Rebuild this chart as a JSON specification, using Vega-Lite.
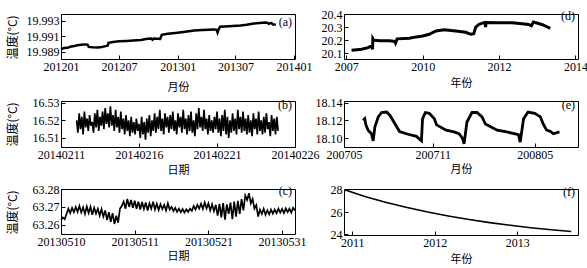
{
"$schema": "https://vega.github.io/schema/vega-lite/v6.json",
"padding": {"left": 5, "top": 7, "right": 0, "bottom": 0},
"background": "white",
"bounds": "flush",
"columns": 2,
"spacing": {"column": 49, "row": 42},
"datasets": {
"a": [
{"t":"2012-01-01T00:00","v":19.98935},{"t":"2012-01-10T00:00","v":19.98948},{"t":"2012-01-22T00:00","v":19.9895},{"t":"2012-02-02T00:00","v":19.98968},{"t":"2012-02-12T00:00","v":19.98975},{"t":"2012-02-22T00:00","v":19.98985},{"t":"2012-03-04T00:00","v":19.9899},{"t":"2012-03-14T00:00","v":19.98995},{"t":"2012-03-24T00:00","v":19.98992},{"t":"2012-03-28T00:00","v":19.98962},{"t":"2012-04-10T00:00","v":19.98958},{"t":"2012-04-25T00:00","v":19.98956},{"t":"2012-05-08T00:00","v":19.9896},{"t":"2012-05-20T00:00","v":19.98972},{"t":"2012-05-27T00:00","v":19.9898},{"t":"2012-05-29T00:00","v":19.99016},{"t":"2012-06-12T00:00","v":19.99025},{"t":"2012-07-01T00:00","v":19.99035},{"t":"2012-07-25T00:00","v":19.9904},{"t":"2012-08-15T00:00","v":19.99046},{"t":"2012-09-08T00:00","v":19.99052},{"t":"2012-09-28T00:00","v":19.99068},{"t":"2012-10-10T00:00","v":19.99072},{"t":"2012-10-14T00:00","v":19.99055},{"t":"2012-10-18T00:00","v":19.9907},{"t":"2012-11-07T00:00","v":19.99065},{"t":"2012-11-12T00:00","v":19.9912},{"t":"2012-12-01T00:00","v":19.99132},{"t":"2013-01-01T00:00","v":19.99147},{"t":"2013-01-25T00:00","v":19.9916},{"t":"2013-02-22T00:00","v":19.99175},{"t":"2013-03-20T00:00","v":19.99183},{"t":"2013-04-25T00:00","v":19.9919},{"t":"2013-05-03T00:00","v":19.99185},{"t":"2013-05-06T00:00","v":19.9915},{"t":"2013-05-09T00:00","v":19.99188},{"t":"2013-05-14T00:00","v":19.99225},{"t":"2013-06-10T00:00","v":19.99232},{"t":"2013-07-17T00:00","v":19.99242},{"t":"2013-08-05T00:00","v":19.9925},{"t":"2013-08-28T00:00","v":19.99265},{"t":"2013-09-15T00:00","v":19.99272},{"t":"2013-10-04T00:00","v":19.99278},{"t":"2013-10-10T00:00","v":19.99274},{"t":"2013-10-14T00:00","v":19.99262},{"t":"2013-10-18T00:00","v":19.9927},{"t":"2013-10-22T00:00","v":19.99272},{"t":"2013-10-28T00:00","v":19.9925},{"t":"2013-11-05T00:00","v":19.99255}
],
"b": [
{"t":"2014-02-12T00:00","v":16.52},{"t":"2014-02-12T02:00","v":16.513},{"t":"2014-02-12T04:00","v":16.524},{"t":"2014-02-12T06:00","v":16.515},{"t":"2014-02-12T08:00","v":16.522},{"t":"2014-02-12T10:00","v":16.512},{"t":"2014-02-12T12:00","v":16.525},{"t":"2014-02-12T14:00","v":16.516},{"t":"2014-02-12T16:00","v":16.521},{"t":"2014-02-12T18:00","v":16.514},{"t":"2014-02-12T20:00","v":16.523},{"t":"2014-02-12T22:00","v":16.517},
{"t":"2014-02-13T00:00","v":16.519},{"t":"2014-02-13T02:00","v":16.513},{"t":"2014-02-13T04:00","v":16.524},{"t":"2014-02-13T06:00","v":16.516},{"t":"2014-02-13T08:00","v":16.526},{"t":"2014-02-13T10:00","v":16.514},{"t":"2014-02-13T12:00","v":16.522},{"t":"2014-02-13T14:00","v":16.517},{"t":"2014-02-13T16:00","v":16.525},{"t":"2014-02-13T18:00","v":16.515},{"t":"2014-02-13T20:00","v":16.527},{"t":"2014-02-13T22:00","v":16.518},
{"t":"2014-02-14T00:00","v":16.524},{"t":"2014-02-14T02:00","v":16.516},{"t":"2014-02-14T04:00","v":16.528},{"t":"2014-02-14T06:00","v":16.517},{"t":"2014-02-14T08:00","v":16.523},{"t":"2014-02-14T10:00","v":16.514},{"t":"2014-02-14T12:00","v":16.526},{"t":"2014-02-14T14:00","v":16.516},{"t":"2014-02-14T16:00","v":16.522},{"t":"2014-02-14T18:00","v":16.513},{"t":"2014-02-14T20:00","v":16.525},{"t":"2014-02-14T22:00","v":16.515},
{"t":"2014-02-15T00:00","v":16.521},{"t":"2014-02-15T02:00","v":16.512},{"t":"2014-02-15T04:00","v":16.523},{"t":"2014-02-15T06:00","v":16.514},{"t":"2014-02-15T08:00","v":16.52},{"t":"2014-02-15T10:00","v":16.511},{"t":"2014-02-15T12:00","v":16.522},{"t":"2014-02-15T14:00","v":16.513},{"t":"2014-02-15T16:00","v":16.519},{"t":"2014-02-15T18:00","v":16.512},{"t":"2014-02-15T20:00","v":16.521},{"t":"2014-02-15T22:00","v":16.514},
{"t":"2014-02-16T00:00","v":16.518},{"t":"2014-02-16T02:00","v":16.51},{"t":"2014-02-16T04:00","v":16.522},{"t":"2014-02-16T06:00","v":16.512},{"t":"2014-02-16T08:00","v":16.519},{"t":"2014-02-16T10:00","v":16.509},{"t":"2014-02-16T12:00","v":16.521},{"t":"2014-02-16T14:00","v":16.513},{"t":"2014-02-16T16:00","v":16.523},{"t":"2014-02-16T18:00","v":16.511},{"t":"2014-02-16T20:00","v":16.52},{"t":"2014-02-16T22:00","v":16.514},
{"t":"2014-02-17T00:00","v":16.524},{"t":"2014-02-17T02:00","v":16.513},{"t":"2014-02-17T04:00","v":16.522},{"t":"2014-02-17T06:00","v":16.515},{"t":"2014-02-17T08:00","v":16.526},{"t":"2014-02-17T10:00","v":16.514},{"t":"2014-02-17T12:00","v":16.521},{"t":"2014-02-17T14:00","v":16.512},{"t":"2014-02-17T16:00","v":16.524},{"t":"2014-02-17T18:00","v":16.516},{"t":"2014-02-17T20:00","v":16.522},{"t":"2014-02-17T22:00","v":16.513},
{"t":"2014-02-18T00:00","v":16.523},{"t":"2014-02-18T02:00","v":16.515},{"t":"2014-02-18T04:00","v":16.525},{"t":"2014-02-18T06:00","v":16.514},{"t":"2014-02-18T08:00","v":16.52},{"t":"2014-02-18T10:00","v":16.512},{"t":"2014-02-18T12:00","v":16.524},{"t":"2014-02-18T14:00","v":16.516},{"t":"2014-02-18T16:00","v":16.522},{"t":"2014-02-18T18:00","v":16.513},{"t":"2014-02-18T20:00","v":16.526},{"t":"2014-02-18T22:00","v":16.515},
{"t":"2014-02-19T00:00","v":16.521},{"t":"2014-02-19T02:00","v":16.512},{"t":"2014-02-19T04:00","v":16.523},{"t":"2014-02-19T06:00","v":16.514},{"t":"2014-02-19T08:00","v":16.525},{"t":"2014-02-19T10:00","v":16.513},{"t":"2014-02-19T12:00","v":16.52},{"t":"2014-02-19T14:00","v":16.511},{"t":"2014-02-19T16:00","v":16.524},{"t":"2014-02-19T18:00","v":16.515},{"t":"2014-02-19T20:00","v":16.527},{"t":"2014-02-19T22:00","v":16.516},
{"t":"2014-02-20T00:00","v":16.522},{"t":"2014-02-20T02:00","v":16.514},{"t":"2014-02-20T04:00","v":16.526},{"t":"2014-02-20T06:00","v":16.515},{"t":"2014-02-20T08:00","v":16.521},{"t":"2014-02-20T10:00","v":16.512},{"t":"2014-02-20T12:00","v":16.523},{"t":"2014-02-20T14:00","v":16.514},{"t":"2014-02-20T16:00","v":16.52},{"t":"2014-02-20T18:00","v":16.513},{"t":"2014-02-20T20:00","v":16.522},{"t":"2014-02-20T22:00","v":16.515},
{"t":"2014-02-21T00:00","v":16.525},{"t":"2014-02-21T02:00","v":16.513},{"t":"2014-02-21T04:00","v":16.521},{"t":"2014-02-21T06:00","v":16.511},{"t":"2014-02-21T08:00","v":16.523},{"t":"2014-02-21T10:00","v":16.514},{"t":"2014-02-21T12:00","v":16.526},{"t":"2014-02-21T14:00","v":16.512},{"t":"2014-02-21T16:00","v":16.522},{"t":"2014-02-21T18:00","v":16.51},{"t":"2014-02-21T20:00","v":16.52},{"t":"2014-02-21T22:00","v":16.513},
{"t":"2014-02-22T00:00","v":16.524},{"t":"2014-02-22T02:00","v":16.514},{"t":"2014-02-22T04:00","v":16.521},{"t":"2014-02-22T06:00","v":16.512},{"t":"2014-02-22T08:00","v":16.526},{"t":"2014-02-22T10:00","v":16.515},{"t":"2014-02-22T12:00","v":16.522},{"t":"2014-02-22T14:00","v":16.513},{"t":"2014-02-22T16:00","v":16.525},{"t":"2014-02-22T18:00","v":16.514},{"t":"2014-02-22T20:00","v":16.521},{"t":"2014-02-22T22:00","v":16.512},
{"t":"2014-02-23T00:00","v":16.523},{"t":"2014-02-23T02:00","v":16.513},{"t":"2014-02-23T04:00","v":16.52},{"t":"2014-02-23T06:00","v":16.511},{"t":"2014-02-23T08:00","v":16.524},{"t":"2014-02-23T10:00","v":16.515},{"t":"2014-02-23T12:00","v":16.521},{"t":"2014-02-23T14:00","v":16.512},{"t":"2014-02-23T16:00","v":16.525},{"t":"2014-02-23T18:00","v":16.514},{"t":"2014-02-23T20:00","v":16.52},{"t":"2014-02-23T22:00","v":16.512},
{"t":"2014-02-24T00:00","v":16.522},{"t":"2014-02-24T02:00","v":16.513},{"t":"2014-02-24T04:00","v":16.524},{"t":"2014-02-24T06:00","v":16.515},{"t":"2014-02-24T08:00","v":16.519},{"t":"2014-02-24T10:00","v":16.511},{"t":"2014-02-24T12:00","v":16.523},{"t":"2014-02-24T14:00","v":16.514},{"t":"2014-02-24T16:00","v":16.521},{"t":"2014-02-24T18:00","v":16.512},{"t":"2014-02-24T20:00","v":16.522},{"t":"2014-02-24T22:00","v":16.514}
],
"c": [
{"t":"2013-05-01T00:00","v":63.2625},{"t":"2013-05-01T06:00","v":63.264},{"t":"2013-05-01T12:00","v":63.263},{"t":"2013-05-01T18:00","v":63.266},
{"t":"2013-05-02T00:00","v":63.269},{"t":"2013-05-02T06:00","v":63.2665},{"t":"2013-05-02T12:00","v":63.2695},{"t":"2013-05-02T18:00","v":63.267},
{"t":"2013-05-03T00:00","v":63.27},{"t":"2013-05-03T06:00","v":63.2672},{"t":"2013-05-03T12:00","v":63.2705},{"t":"2013-05-03T18:00","v":63.2668},
{"t":"2013-05-04T00:00","v":63.2698},{"t":"2013-05-04T06:00","v":63.266},{"t":"2013-05-04T12:00","v":63.2702},{"t":"2013-05-04T18:00","v":63.2665},
{"t":"2013-05-05T00:00","v":63.27},{"t":"2013-05-05T06:00","v":63.2655},{"t":"2013-05-05T12:00","v":63.2695},{"t":"2013-05-05T18:00","v":63.2662},
{"t":"2013-05-06T00:00","v":63.269},{"t":"2013-05-06T06:00","v":63.265},{"t":"2013-05-06T12:00","v":63.2688},{"t":"2013-05-06T18:00","v":63.2645},
{"t":"2013-05-07T00:00","v":63.268},{"t":"2013-05-07T06:00","v":63.2625},{"t":"2013-05-07T12:00","v":63.267},{"t":"2013-05-07T18:00","v":63.2615},
{"t":"2013-05-08T00:00","v":63.2665},{"t":"2013-05-08T06:00","v":63.2603},{"t":"2013-05-08T12:00","v":63.265},{"t":"2013-05-08T18:00","v":63.261},
{"t":"2013-05-09T00:00","v":63.269},{"t":"2013-05-09T06:00","v":63.2705},{"t":"2013-05-09T12:00","v":63.273},{"t":"2013-05-09T18:00","v":63.269},
{"t":"2013-05-10T00:00","v":63.2745},{"t":"2013-05-10T06:00","v":63.27},{"t":"2013-05-10T12:00","v":63.274},{"t":"2013-05-10T18:00","v":63.2695},
{"t":"2013-05-11T00:00","v":63.2735},{"t":"2013-05-11T06:00","v":63.269},{"t":"2013-05-11T12:00","v":63.273},{"t":"2013-05-11T18:00","v":63.2685},
{"t":"2013-05-12T00:00","v":63.2728},{"t":"2013-05-12T06:00","v":63.2688},{"t":"2013-05-12T12:00","v":63.2725},{"t":"2013-05-12T18:00","v":63.268},
{"t":"2013-05-13T00:00","v":63.272},{"t":"2013-05-13T06:00","v":63.269},{"t":"2013-05-13T12:00","v":63.273},{"t":"2013-05-13T18:00","v":63.2685},
{"t":"2013-05-14T00:00","v":63.2718},{"t":"2013-05-14T06:00","v":63.2682},{"t":"2013-05-14T12:00","v":63.2715},{"t":"2013-05-14T18:00","v":63.2688},
{"t":"2013-05-15T00:00","v":63.2712},{"t":"2013-05-15T06:00","v":63.268},{"t":"2013-05-15T12:00","v":63.272},{"t":"2013-05-15T18:00","v":63.2685},
{"t":"2013-05-16T00:00","v":63.27},{"t":"2013-05-16T06:00","v":63.2676},{"t":"2013-05-16T12:00","v":63.2695},{"t":"2013-05-16T18:00","v":63.2672},
{"t":"2013-05-17T00:00","v":63.269},{"t":"2013-05-17T06:00","v":63.267},{"t":"2013-05-17T12:00","v":63.2688},{"t":"2013-05-17T18:00","v":63.2668},
{"t":"2013-05-18T00:00","v":63.2686},{"t":"2013-05-18T06:00","v":63.2672},{"t":"2013-05-18T12:00","v":63.269},{"t":"2013-05-18T18:00","v":63.2678},
{"t":"2013-05-19T00:00","v":63.2705},{"t":"2013-05-19T06:00","v":63.2685},{"t":"2013-05-19T12:00","v":63.2712},{"t":"2013-05-19T18:00","v":63.269},
{"t":"2013-05-20T00:00","v":63.2718},{"t":"2013-05-20T06:00","v":63.2688},{"t":"2013-05-20T12:00","v":63.2725},{"t":"2013-05-20T18:00","v":63.2692},
{"t":"2013-05-21T00:00","v":63.272},{"t":"2013-05-21T06:00","v":63.268},{"t":"2013-05-21T12:00","v":63.2715},{"t":"2013-05-21T18:00","v":63.2676},
{"t":"2013-05-22T00:00","v":63.2712},{"t":"2013-05-22T06:00","v":63.265},{"t":"2013-05-22T12:00","v":63.2718},{"t":"2013-05-22T18:00","v":63.264},
{"t":"2013-05-23T00:00","v":63.2722},{"t":"2013-05-23T06:00","v":63.2628},{"t":"2013-05-23T12:00","v":63.2715},{"t":"2013-05-23T18:00","v":63.266},
{"t":"2013-05-24T00:00","v":63.2725},{"t":"2013-05-24T06:00","v":63.263},{"t":"2013-05-24T12:00","v":63.273},{"t":"2013-05-24T18:00","v":63.2645},
{"t":"2013-05-25T00:00","v":63.2735},{"t":"2013-05-25T06:00","v":63.266},{"t":"2013-05-25T12:00","v":63.2745},{"t":"2013-05-25T18:00","v":63.268},
{"t":"2013-05-26T00:00","v":63.2765},{"t":"2013-05-26T06:00","v":63.274},{"t":"2013-05-26T12:00","v":63.2778},{"t":"2013-05-26T18:00","v":63.272},
{"t":"2013-05-27T00:00","v":63.2745},{"t":"2013-05-27T06:00","v":63.269},{"t":"2013-05-27T12:00","v":63.271},{"t":"2013-05-27T18:00","v":63.2645},
{"t":"2013-05-28T00:00","v":63.2685},{"t":"2013-05-28T06:00","v":63.266},{"t":"2013-05-28T12:00","v":63.269},{"t":"2013-05-28T18:00","v":63.2655},
{"t":"2013-05-29T00:00","v":63.268},{"t":"2013-05-29T06:00","v":63.2658},{"t":"2013-05-29T12:00","v":63.2685},{"t":"2013-05-29T18:00","v":63.2662},
{"t":"2013-05-30T00:00","v":63.2685},{"t":"2013-05-30T06:00","v":63.2664},{"t":"2013-05-30T12:00","v":63.269},{"t":"2013-05-30T18:00","v":63.2668},
{"t":"2013-05-31T00:00","v":63.2688},{"t":"2013-05-31T06:00","v":63.2665},{"t":"2013-05-31T12:00","v":63.2692},{"t":"2013-05-31T18:00","v":63.267},
{"t":"2013-06-01T00:00","v":63.269},{"t":"2013-06-01T06:00","v":63.2668},{"t":"2013-06-01T12:00","v":63.2695},{"t":"2013-06-01T18:00","v":63.268}
],
"d": [
{"t":"2008-02-20T00:00","v":20.123},{"t":"2008-04-10T00:00","v":20.127},{"t":"2008-05-26T00:00","v":20.131},{"t":"2008-07-27T00:00","v":20.143},{"t":"2008-08-29T00:00","v":20.156},{"t":"2008-09-08T00:00","v":20.13},{"t":"2008-09-11T00:00","v":20.212},{"t":"2008-09-20T00:00","v":20.2},{"t":"2008-11-17T00:00","v":20.195},{"t":"2009-02-17T00:00","v":20.195},{"t":"2009-04-10T00:00","v":20.19},{"t":"2009-04-16T00:00","v":20.178},{"t":"2009-04-22T00:00","v":20.19},{"t":"2009-05-01T00:00","v":20.21},{"t":"2009-08-26T00:00","v":20.215},{"t":"2009-11-01T00:00","v":20.225},{"t":"2010-01-01T00:00","v":20.232},{"t":"2010-03-04T00:00","v":20.245},{"t":"2010-05-08T00:00","v":20.27},{"t":"2010-07-24T00:00","v":20.28},{"t":"2010-11-14T00:00","v":20.27},{"t":"2011-02-17T00:00","v":20.26},{"t":"2011-04-05T00:00","v":20.245},{"t":"2011-05-04T00:00","v":20.25},{"t":"2011-05-23T00:00","v":20.3},{"t":"2011-06-21T00:00","v":20.32},{"t":"2011-08-01T00:00","v":20.332},{"t":"2011-08-20T00:00","v":20.335},{"t":"2011-08-25T00:00","v":20.3},{"t":"2011-08-30T00:00","v":20.335},{"t":"2012-01-01T00:00","v":20.333},{"t":"2012-05-05T00:00","v":20.333},{"t":"2012-08-08T00:00","v":20.325},{"t":"2012-10-09T00:00","v":20.32},{"t":"2012-11-05T00:00","v":20.31},{"t":"2012-11-25T00:00","v":20.338},{"t":"2013-02-14T00:00","v":20.32},{"t":"2013-05-05T00:00","v":20.29}
],
"e": [
{"t":"2007-06-30T00:00","v":18.12},{"t":"2007-07-03T00:00","v":18.122},{"t":"2007-07-05T00:00","v":18.115},{"t":"2007-07-09T00:00","v":18.109},{"t":"2007-07-15T00:00","v":18.105},{"t":"2007-07-18T00:00","v":18.097},{"t":"2007-07-21T00:00","v":18.1125},{"t":"2007-07-27T00:00","v":18.124},{"t":"2007-08-02T00:00","v":18.129},{"t":"2007-08-11T00:00","v":18.1295},{"t":"2007-08-17T00:00","v":18.1257},{"t":"2007-09-03T00:00","v":18.1075},{"t":"2007-09-15T00:00","v":18.105},{"t":"2007-10-03T00:00","v":18.102},{"t":"2007-10-12T00:00","v":18.097},{"t":"2007-10-14T00:00","v":18.122},{"t":"2007-10-19T00:00","v":18.129},{"t":"2007-10-26T00:00","v":18.128},{"t":"2007-11-04T00:00","v":18.122},{"t":"2007-11-08T00:00","v":18.115},{"t":"2007-11-25T00:00","v":18.109},{"t":"2007-12-09T00:00","v":18.107},{"t":"2007-12-18T00:00","v":18.105},{"t":"2007-12-24T00:00","v":18.1},{"t":"2007-12-27T00:00","v":18.0935},{"t":"2008-01-01T00:00","v":18.118},{"t":"2008-01-10T00:00","v":18.129},{"t":"2008-01-19T00:00","v":18.129},{"t":"2008-01-28T00:00","v":18.124},{"t":"2008-02-03T00:00","v":18.116},{"t":"2008-02-24T00:00","v":18.109},{"t":"2008-03-12T00:00","v":18.107},{"t":"2008-04-02T00:00","v":18.104},{"t":"2008-04-05T00:00","v":18.0955},{"t":"2008-04-11T00:00","v":18.122},{"t":"2008-04-19T00:00","v":18.1295},{"t":"2008-05-01T00:00","v":18.128},{"t":"2008-05-11T00:00","v":18.124},{"t":"2008-05-16T00:00","v":18.116},{"t":"2008-05-22T00:00","v":18.109},{"t":"2008-05-29T00:00","v":18.1075},{"t":"2008-06-03T00:00","v":18.105},{"t":"2008-06-14T00:00","v":18.107}
],
"f": [
{"t":"2010-12-01T00:00","v":28.0},{"t":"2011-03-01T00:00","v":27.4},{"t":"2011-06-01T00:00","v":26.88},{"t":"2011-09-01T00:00","v":26.42},{"t":"2011-12-01T00:00","v":26.01},{"t":"2012-03-01T00:00","v":25.66},{"t":"2012-06-01T00:00","v":25.34},{"t":"2012-09-01T00:00","v":25.06},{"t":"2012-12-01T00:00","v":24.82},{"t":"2013-03-01T00:00","v":24.6},{"t":"2013-06-01T00:00","v":24.41},{"t":"2013-08-28T00:00","v":24.25}
]
},
"concat": [
{
"width": 234, "height": 45,
"data": {"name": "a"},
"title": {"text": "(a)"},
"mark": {"type": "line", "color": "black", "strokeWidth": 2.5},
"encoding": {
"x": {"field": "t", "type": "temporal", "scale": {"domain": [{"year": 2012, "month": 1, "date": 1}, {"year": 2014, "month": 1, "date": 4}]}, "axis": {"values": [{"year": 2012, "month": 1, "date": 1}, {"year": 2012, "month": 7, "date": 1}, {"year": 2013, "month": 1, "date": 1}, {"year": 2013, "month": 7, "date": 1}, {"year": 2014, "month": 1, "date": 1}], "format": "%Y%m", "title": "月份", "titlePadding": 9}},
"y": {"field": "v", "type": "quantitative", "scale": {"domain": [19.98805, 19.9939], "zero": false, "nice": false}, "axis": {"values": [19.989, 19.991, 19.993], "format": ".3f", "title": "温度(°C)"}}
}
},
{
"width": 234, "height": 45,
"data": {"name": "d"},
"title": {"text": "(d)"},
"mark": {"type": "line", "color": "black", "strokeWidth": 3},
"encoding": {
"x": {"field": "t", "type": "temporal", "scale": {"domain": [{"year": 2007, "month": 12, "date": 10}, {"year": 2014, "month": 1, "date": 25}]}, "axis": {"values": [{"year": 2008, "month": 1, "date": 1}, {"year": 2010, "month": 1, "date": 1}, {"year": 2012, "month": 1, "date": 1}, {"year": 2014, "month": 1, "date": 1}], "format": "%Y", "labelExpr": "datum.label == '2008' ? '2007' : datum.label", "title": "年份", "titlePadding": 5}},
"y": {"field": "v", "type": "quantitative", "scale": {"domain": [20.056, 20.4], "zero": false, "nice": false}, "axis": {"values": [20.1, 20.2, 20.3, 20.4], "format": ".1f", "title": null}}
}
},
{
"width": 234, "height": 46,
"data": {"name": "b"},
"title": {"text": "(b)"},
"mark": {"type": "line", "color": "black", "strokeWidth": 1.7},
"encoding": {
"x": {"field": "t", "type": "temporal", "scale": {"domain": [{"year": 2014, "month": 2, "date": 11}, {"year": 2014, "month": 2, "date": 26}]}, "axis": {"values": [{"year": 2014, "month": 2, "date": 11}, {"year": 2014, "month": 2, "date": 16}, {"year": 2014, "month": 2, "date": 21}, {"year": 2014, "month": 2, "date": 26}], "format": "%Y%m%d", "title": "日期", "titlePadding": 4}},
"y": {"field": "v", "type": "quantitative", "scale": {"domain": [16.5048, 16.531], "zero": false, "nice": false}, "axis": {"values": [16.51, 16.52, 16.53], "format": ".2f", "title": "温度(°C)"}}
}
},
{
"width": 234, "height": 46,
"data": {"name": "e"},
"title": {"text": "(e)"},
"mark": {"type": "line", "color": "black", "strokeWidth": 2.8},
"encoding": {
"x": {"field": "t", "type": "temporal", "scale": {"domain": [{"year": 2007, "month": 5, "date": 27}, {"year": 2008, "month": 7, "date": 17}]}, "axis": {"values": [{"year": 2007, "month": 5, "date": 27}, {"year": 2007, "month": 11, "date": 1}, {"year": 2008, "month": 5, "date": 1}], "format": "%Y%m", "title": "月份", "titlePadding": 3}},
"y": {"field": "v", "type": "quantitative", "scale": {"domain": [18.09, 18.142], "zero": false, "nice": false}, "axis": {"values": [18.1, 18.12, 18.14], "format": ".2f", "title": null}}
}
},
{
"width": 234, "height": 45,
"data": {"name": "c"},
"title": {"text": "(c)"},
"mark": {"type": "line", "color": "black", "strokeWidth": 1.7},
"encoding": {
"x": {"field": "t", "type": "temporal", "scale": {"domain": [{"year": 2013, "month": 5, "date": 1}, {"year": 2013, "month": 6, "date": 1, "hours": 18}]}, "axis": {"values": [{"year": 2013, "month": 5, "date": 1}, {"year": 2013, "month": 5, "date": 11}, {"year": 2013, "month": 5, "date": 21}, {"year": 2013, "month": 5, "date": 31}], "format": "%Y%m%d", "labelExpr": "datum.label == '20130501' ? '20130510' : datum.label", "title": "日期", "titlePadding": 3}},
"y": {"field": "v", "type": "quantitative", "scale": {"domain": [63.2546, 63.2802], "zero": false, "nice": false}, "axis": {"values": [63.26, 63.27, 63.28], "format": ".2f", "title": "温度(°C)"}}
}
},
{
"width": 234, "height": 46,
"data": {"name": "f"},
"title": {"text": "(f)"},
"mark": {"type": "line", "color": "black", "strokeWidth": 1.6},
"encoding": {
"x": {"field": "t", "type": "temporal", "scale": {"domain": [{"year": 2010, "month": 11, "date": 25}, {"year": 2013, "month": 9, "date": 27}]}, "axis": {"values": [{"year": 2011, "month": 1, "date": 1}, {"year": 2012, "month": 1, "date": 1}, {"year": 2013, "month": 1, "date": 1}], "format": "%Y", "title": "年份", "titlePadding": 5}},
"y": {"field": "v", "type": "quantitative", "scale": {"domain": [23.94, 28.09], "zero": false, "nice": false}, "axis": {"values": [24, 26, 28], "format": "d", "title": null}}
}
}
],
"config": {
"view": {"stroke": "black", "strokeWidth": 1},
"title": {"anchor": "end", "frame": "group", "orient": "top", "offset": -15, "font": "Liberation Serif", "fontSize": 12, "fontWeight": "normal", "color": "black", "dx": -3},
"axis": {"domain": false, "grid": false, "ticks": true, "tickColor": "black", "tickSize": -4, "tickWidth": 1, "labelFont": "Liberation Serif", "labelFontSize": 12, "labelColor": "black", "labelFlush": false, "labelOverlap": false, "titleFont": "Noto Sans CJK SC", "titleFontSize": 11, "titleFontWeight": "normal", "titleColor": "black"},
"axisX": {"labelPadding": 6},
"axisY": {"labelPadding": 6, "titleX": -49, "titleY": 23, "titleAngle": -90, "titleAlign": "center", "titleBaseline": "middle", "titleFontSize": 12}
}
}
